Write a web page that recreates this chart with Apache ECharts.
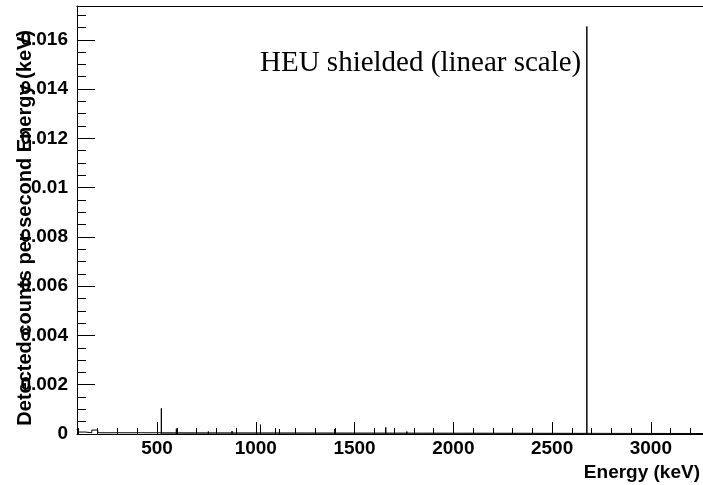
<!DOCTYPE html>
<html>
<head>
<meta charset="utf-8">
<script src="https://cdn.jsdelivr.net/npm/echarts@6/dist/echarts.min.js"></script>
<style>
  html, body { margin: 0; padding: 0; background: #fff; }
  #box { width: 703px; height: 485px; }
</style>
</head>
<body>
<div id="box"></div>
<script>
// axis range (keV / counts per second per keV)
var xMin = 95, xMax = 3264;
var yMin = 0, yMax = 0.01737;

// tick labels
var xMajorTicks = [500, 1000, 1500, 2000, 2500, 3000];
var yMajorTicks = [0, 0.002, 0.004, 0.006, 0.008, 0.01, 0.012, 0.014, 0.016];

// low energy continuum (bin start, value)
var contEnergy = [95, 100, 135, 170, 200, 420, 3264];
var contValue = [0.0002, 0.00008, 0.00005, 0.00016, 0.00005, 0.00002, 0.00002];

// lines in the spectrum
var peakEnergy = [522, 598, 760, 790, 880, 970, 1024, 1120, 1148, 1400, 1467, 1545, 1658, 1765, 1873, 2170, 2253, 2676];
var peakValue = [0.00104, 0.00022, 0.0001, 0.00008, 0.00012, 0.00005, 0.00038, 0.0002, 0.00005, 0.0002, 0.00006, 0.00008, 0.00027, 0.0001, 0.00005, 0.00004, 0.00004, 0.01654];

var xMinorTicks = [];
for (var e = 100; e <= 3200; e += 100) if (e % 500 !== 0) xMinorTicks.push(e);
var yMinorTicks = [];
for (var k = 1; k <= 34; k++) if (k % 4 !== 0) yMinorTicks.push(+(k * 0.0005).toFixed(4));

var contData = contEnergy.map(function (e, i) { return [e, contValue[i]]; });
var peakData = [];
peakEnergy.forEach(function (e, i) {
  peakData.push([e, 0], [e, peakValue[i]], [e, 0]);
});

var font = '"Liberation Sans", Arial, sans-serif';

var myChart = echarts.init(document.getElementById('box'));
var option = {
  animation: false,
  grid: { left: 77, right: 0, top: 6, bottom: 51 },
  xAxis: [
    {
      type: 'value', min: xMin, max: xMax, position: 'bottom',
      splitLine: { show: false },
      axisLine: { lineStyle: { color: '#000', width: 1 } },
      axisTick: { inside: true, length: 12, customValues: xMajorTicks, lineStyle: { color: '#000' } },
      axisLabel: {
        customValues: xMajorTicks, margin: 5,
        color: '#000', fontFamily: font, fontWeight: 'bold', fontSize: 19,
        formatter: function (v) { return String(v); }
      }
    },
    {
      type: 'value', min: xMin, max: xMax, position: 'bottom',
      splitLine: { show: false },
      axisLine: { show: false },
      axisTick: { inside: true, length: 6, customValues: xMinorTicks, lineStyle: { color: '#000' } },
      axisLabel: { show: false }
    },
    {
      type: 'value', min: xMin, max: xMax, position: 'top',
      splitLine: { show: false },
      axisLine: { lineStyle: { color: '#000' } },
      axisTick: { show: false },
      axisLabel: { show: false }
    }
  ],
  yAxis: [
    {
      type: 'value', min: yMin, max: yMax, position: 'left',
      splitLine: { show: false },
      axisLine: { show: true, lineStyle: { color: '#000', width: 1 } },
      axisTick: { inside: true, length: 18, customValues: yMajorTicks, lineStyle: { color: '#000' } },
      axisLabel: {
        customValues: yMajorTicks, margin: 9,
        color: '#000', fontFamily: font, fontWeight: 'bold', fontSize: 19,
        formatter: function (v) { return String(v); }
      }
    },
    {
      type: 'value', min: yMin, max: yMax, position: 'left',
      splitLine: { show: false },
      axisLine: { show: false },
      axisTick: { inside: true, length: 9, customValues: yMinorTicks, lineStyle: { color: '#000' } },
      axisLabel: { show: false }
    }
  ],
  series: [
    {
      name: 'continuum', type: 'line', step: 'end', data: contData,
      symbol: 'none', lineStyle: { color: '#000', width: 1 }, silent: true
    },
    {
      name: 'peaks', type: 'line', data: peakData,
      symbol: 'none', lineStyle: { color: '#000', width: 1 }, silent: true
    }
  ],
  graphic: [
    {
      type: 'text', left: 260, top: 49,
      style: { text: 'HEU shielded (linear scale)', fill: '#000', font: '29px "Liberation Serif", "Times New Roman", serif' }
    },
    {
      type: 'text', x: 700, y: 463,
      style: { text: 'Energy (keV)', fill: '#000', align: 'right', verticalAlign: 'top',
        font: 'bold 19px "Liberation Sans", Arial, sans-serif' }
    },
    {
      type: 'text', x: 25, y: 30, rotation: Math.PI / 2,
      style: { text: 'Detected counts per second Energy (keV)', fill: '#000', align: 'right', verticalAlign: 'middle',
        font: 'bold 20px "Liberation Sans", Arial, sans-serif' }
    }
  ]
};
myChart.setOption(option);
</script>
</body>
</html>
